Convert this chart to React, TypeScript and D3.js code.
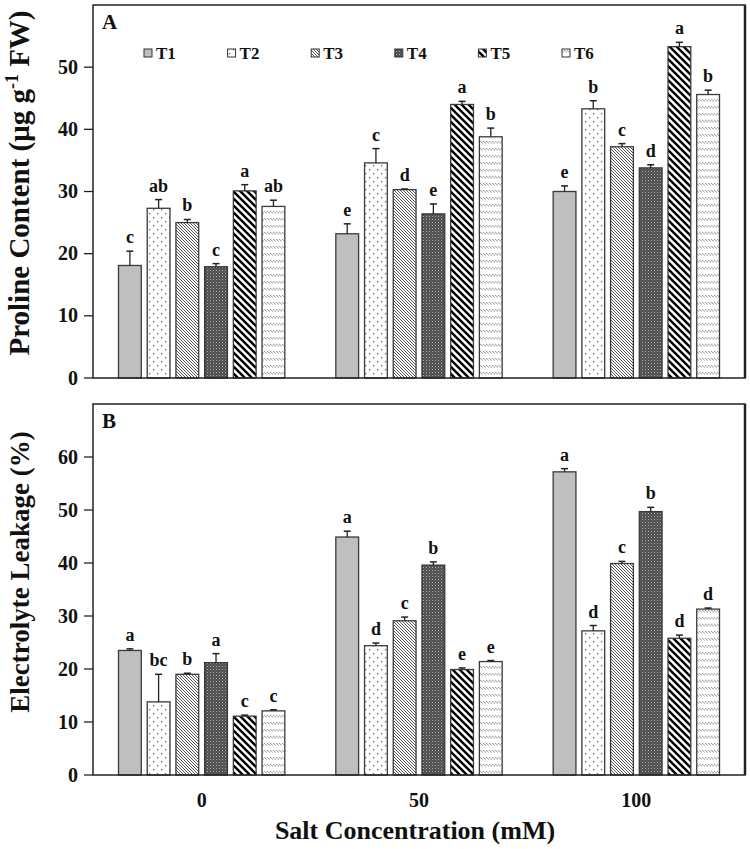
import React from "react";
import * as d3 from "d3";

const categories = ["0", "50", "100"];
const treatments = ["T1", "T2", "T3", "T4", "T5", "T6"];

// Panel A: Proline content (µg g-1 FW), per treatment across salt levels
const prolineMean = [
  [18.1, 23.2, 30.0],
  [27.3, 34.6, 43.3],
  [25.0, 30.3, 37.2],
  [17.9, 26.4, 33.8],
  [30.1, 44.0, 53.3],
  [27.6, 38.8, 45.6],
];
const prolineSE = [
  [2.3, 1.6, 0.9],
  [1.4, 2.3, 1.3],
  [0.5, 0.1, 0.5],
  [0.5, 1.6, 0.5],
  [1.0, 0.5, 0.7],
  [1.0, 1.4, 0.7],
];
const prolineLetters = [
  ["c", "e", "e"],
  ["ab", "c", "b"],
  ["b", "d", "c"],
  ["c", "e", "d"],
  ["a", "a", "a"],
  ["ab", "b", "b"],
];

// Panel B: Electrolyte leakage (%)
const leakMean = [
  [23.5, 44.9, 57.2],
  [13.8, 24.4, 27.2],
  [19.0, 29.1, 39.9],
  [21.2, 39.6, 49.7],
  [11.1, 19.9, 25.8],
  [12.1, 21.4, 31.3],
];
const leakSE = [
  [0.3, 1.1, 0.6],
  [5.2, 0.5, 1.0],
  [0.2, 0.7, 0.4],
  [1.7, 0.6, 0.8],
  [0.2, 0.3, 0.6],
  [0.2, 0.2, 0.2],
];
const leakLetters = [
  ["a", "a", "a"],
  ["bc", "d", "d"],
  ["b", "c", "c"],
  ["a", "b", "b"],
  ["c", "e", "d"],
  ["c", "e", "d"],
];

const prolineTicks = [0, 10, 20, 30, 40, 50];
const leakTicks = [0, 10, 20, 30, 40, 50, 60];

const FONT = "'Liberation Serif', 'Times New Roman', serif";
const LEFT = 93;
const RIGHT = 745;

const fills = [
  "#bfbfbf",
  "url(#pT2)",
  "url(#pT3)",
  "url(#pT4)",
  "url(#pT5)",
  "url(#pT6)",
];

function Patterns() {
  return (
    <defs>
      <pattern id="pT2" patternUnits="userSpaceOnUse" width="8" height="8">
        <rect width="8" height="8" fill="#fff" />
        <rect x="1" y="1" width="1.3" height="1.3" fill="#666" />
        <rect x="5" y="5" width="1.3" height="1.3" fill="#666" />
      </pattern>
      <pattern id="pT3" patternUnits="userSpaceOnUse" width="3" height="3">
        <rect width="3" height="3" fill="#fff" />
        <path d="M-1,-1 L4,4 M-1,2 L1,4 M2,-1 L4,1" stroke="#555" strokeWidth="1" />
      </pattern>
      <pattern id="pT4" patternUnits="userSpaceOnUse" width="3" height="3">
        <rect width="3" height="3" fill="#4a4a4a" />
        <rect x="0" y="0" width="1" height="1" fill="#b5b5b5" />
        <rect x="1.5" y="1.5" width="1" height="1" fill="#8a8a8a" />
      </pattern>
      <pattern id="pT5" patternUnits="userSpaceOnUse" width="7" height="7">
        <rect width="7" height="7" fill="#fff" />
        <path d="M-2,-2 L9,9 M-2,5 L2,9 M5,-2 L9,2" stroke="#000" strokeWidth="2.4" />
      </pattern>
      <pattern id="pT6" patternUnits="userSpaceOnUse" width="3" height="7">
        <rect width="3" height="7" fill="#fff" />
        <path d="M0,1 L3,3.5" stroke="#8a8a8a" strokeWidth="0.9" />
      </pattern>
    </defs>
  );
}

type PanelProps = {
  top: number;
  bottom: number;
  ymax: number;
  ticks: number[];
  means: number[][];
  ses: number[][];
  letters: string[][];
  tag: string;
};

function Panel({ top, bottom, ymax, ticks, means, ses, letters, tag }: PanelProps) {
  const y = d3.scaleLinear().domain([0, ymax]).range([bottom, top]);
  const x0 = d3.scaleBand<string>().domain(categories).range([LEFT, RIGHT]);
  const bw0 = x0.bandwidth();
  const inset = 25.5;
  const x1 = d3
    .scaleBand<string>()
    .domain(treatments)
    .range([inset, bw0 - inset])
    .paddingInner(6 / 29);
  const bw = x1.bandwidth();

  return (
    <g>
      {treatments.map((t, ti) =>
        categories.map((c, ci) => {
          const xs = (x0(c) as number) + (x1(t) as number);
          const v = means[ti][ci];
          const e = ses[ti][ci];
          const cx = xs + bw / 2;
          const yTop = y(v);
          const yErr = y(v + e);
          return (
            <g key={t + c}>
              <rect
                x={xs}
                y={yTop}
                width={bw}
                height={bottom - yTop}
                fill={fills[ti]}
                stroke="#3a3a3a"
                strokeWidth={1.3}
              />
              <line x1={cx} x2={cx} y1={yTop} y2={yErr} stroke="#222" strokeWidth={1.3} />
              <line x1={cx - 3.5} x2={cx + 3.5} y1={yErr} y2={yErr} stroke="#222" strokeWidth={1.5} />
              <text
                x={cx}
                y={yErr - 8}
                textAnchor="middle"
                fontFamily={FONT}
                fontWeight="bold"
                fontSize={18}
                fill="#111"
              >
                {letters[ti][ci]}
              </text>
            </g>
          );
        })
      )}
      {/* frame */}
      <rect
        x={LEFT}
        y={top}
        width={RIGHT - LEFT}
        height={bottom - top}
        fill="none"
        stroke="#222"
        strokeWidth={1.5}
      />
      <line x1={RIGHT} x2={RIGHT} y1={top} y2={bottom} stroke="#222" strokeWidth={2.5} />
      {/* y ticks */}
      {ticks.map((t) => (
        <g key={t}>
          <line x1={LEFT - 9} x2={LEFT} y1={y(t)} y2={y(t)} stroke="#222" strokeWidth={1.3} />
          <text
            x={LEFT - 15}
            y={y(t) + 6.5}
            textAnchor="end"
            fontFamily={FONT}
            fontWeight="bold"
            fontSize={20}
            fill="#111"
          >
            {t}
          </text>
        </g>
      ))}
      <text
        x={LEFT + 9}
        y={top + 24}
        fontFamily={FONT}
        fontWeight="bold"
        fontSize={21}
        fill="#111"
      >
        {tag}
      </text>
    </g>
  );
}

export default function App() {
  const legendX = d3
    .scalePoint<string>()
    .domain(treatments)
    .range([144, 562]);
  const x0 = d3.scaleBand<string>().domain(categories).range([LEFT, RIGHT]);
  return (
    <svg
      width={750}
      height={849}
      viewBox="0 0 750 849"
      style={{ position: "absolute", left: 0, top: 0, display: "block", background: "#fff" }}
    >
      <Patterns />
      <rect width={750} height={849} fill="#fff" />
      <Panel
        top={5}
        bottom={378}
        ymax={60}
        ticks={prolineTicks}
        means={prolineMean}
        ses={prolineSE}
        letters={prolineLetters}
        tag="A"
      />
      <Panel
        top={404}
        bottom={775}
        ymax={70}
        ticks={leakTicks}
        means={leakMean}
        ses={leakSE}
        letters={leakLetters}
        tag="B"
      />
      {/* legend */}
      {treatments.map((t, i) => {
        const lx = legendX(t) as number;
        return (
          <g key={t}>
            <rect x={lx} y={49} width={8} height={8} fill={fills[i]} stroke="#333" strokeWidth={1} />
            <text x={lx + 12} y={58.5} fontFamily={FONT} fontWeight="bold" fontSize={17} fill="#111">
              {t}
            </text>
          </g>
        );
      })}
      {/* x tick labels */}
      {categories.map((c) => (
        <text
          key={c}
          x={(x0(c) as number) + x0.bandwidth() / 2}
          y={807}
          textAnchor="middle"
          fontFamily={FONT}
          fontWeight="bold"
          fontSize={20}
          fill="#111"
        >
          {c}
        </text>
      ))}
      <text
        x={(LEFT + RIGHT) / 2 - 4}
        y={839}
        textAnchor="middle"
        fontFamily={FONT}
        fontWeight="bold"
        fontSize={26}
        fill="#111"
      >
        Salt Concentration (mM)
      </text>
      <text
        transform={`translate(29, ${183}) rotate(-90)`}
        textAnchor="middle"
        fontFamily={FONT}
        fontWeight="bold"
        fontSize={29}
        fill="#111"
      >
        Proline Content (μg g
        <tspan fontSize={18} dy={-11}>-1</tspan>
        <tspan dy={11}> FW)</tspan>
      </text>
      <text
        transform={`translate(29, ${572}) rotate(-90)`}
        textAnchor="middle"
        fontFamily={FONT}
        fontWeight="bold"
        fontSize={27}
        fill="#111"
      >
        Electrolyte Leakage (%)
      </text>
    </svg>
  );
}
